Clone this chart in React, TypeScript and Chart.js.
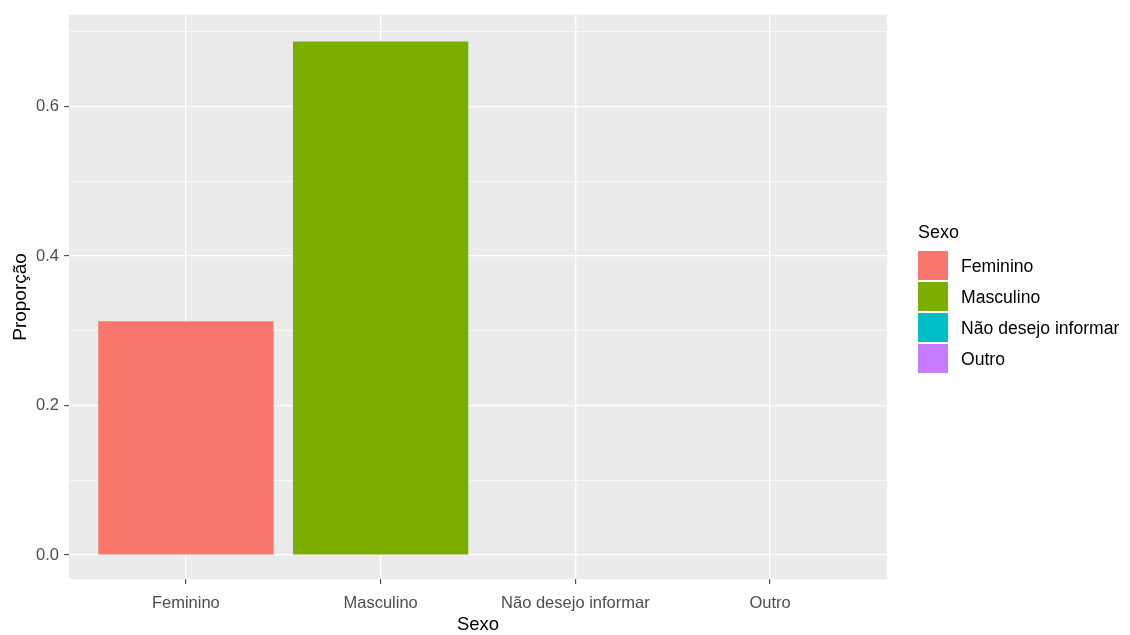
import React, { useEffect, useRef } from "react";
import { Chart, registerables } from "chart.js";

Chart.register(...registerables);

const categories = ["Feminino", "Masculino", "Não desejo informar", "Outro"];
const proportions = [0.313, 0.687, 0, 0];
const barColors = ["#F8766D", "#7CAE00", "#00BFC4", "#C77CFF"];
const yTickValues = [0, 0.1, 0.2, 0.3, 0.4, 0.5, 0.6, 0.7];
const majorYTicks = [0, 0.2, 0.4, 0.6];
const legendTitle = "Sexo";
const xTitle = "Sexo";
const yTitle = "Proporção";

const FONT = "'Liberation Sans', Arial, sans-serif";

const panelBg = {
  id: "panelBg",
  beforeDraw(chart: any) {
    const { ctx, chartArea } = chart;
    ctx.save();
    ctx.fillStyle = "#EBEBEB";
    ctx.fillRect(chartArea.left, chartArea.top, chartArea.right - chartArea.left, chartArea.bottom - chartArea.top);
    ctx.restore();
  },
};

const legendPlugin = {
  id: "ggLegend",
  afterDraw(chart: any) {
    const { ctx, chartArea } = chart;
    const x0 = chartArea.right + 31;
    ctx.save();
    ctx.fillStyle = "#000000";
    ctx.font = `18px ${FONT}`;
    ctx.textBaseline = "middle";
    ctx.textAlign = "left";
    ctx.fillText(legendTitle, x0, 233);
    const keyTop = 251;
    const step = 31;
    categories.forEach((c, i) => {
      const y = keyTop + i * step;
      ctx.fillStyle = barColors[i];
      ctx.fillRect(x0, y, 30, 29);
      ctx.fillStyle = "#000000";
      ctx.font = `17.6px ${FONT}`;
      ctx.fillText(c, x0 + 43, y + 16);
    });
    ctx.restore();
  },
};

export default function App() {
  const ref = useRef<HTMLCanvasElement | null>(null);
  useEffect(() => {
    document.body.style.margin = "0";
    const canvas = ref.current;
    if (!canvas) return;
    const isMajorY = (v: number) => majorYTicks.some((m) => Math.abs(m - v) < 1e-6);
    const chart = new Chart(canvas, {
      type: "bar",
      data: {
        datasets: [
          {
            data: categories.map((c, i) => ({ x: i, y: proportions[i] })),
            backgroundColor: barColors,
            borderWidth: 0,
            categoryPercentage: 1,
            barPercentage: 0.9,
          } as any,
        ],
      },
      options: {
        animation: false,
        responsive: false,
        devicePixelRatio: 1,
        layout: { padding: { top: 13, right: 243, left: 0, bottom: 0 } },
        plugins: { legend: { display: false }, tooltip: { enabled: false } },
        scales: {
          x: {
            type: "linear",
            min: -0.6,
            max: 3.6,
            offset: false,
            afterBuildTicks: (scale: any) => {
              scale.ticks = categories.map((_, i) => ({ value: i }));
            },
            afterFit: (scale: any) => {
              scale.height = 56;
            },
            ticks: {
              callback: (v: any) => categories[Number(v)] ?? "",
              color: "#4D4D4D",
              font: { family: FONT, size: 16.5, lineHeight: 1 },
              padding: 11,
              maxRotation: 0,
              autoSkip: false,
            },
            grid: {
              offset: false,
              color: "#FFFFFF",
              lineWidth: 1.3,
              tickLength: 5,
              tickColor: "#333333",
              tickWidth: 1,
            },
            border: { display: false },
            title: {
              display: true,
              text: xTitle,
              color: "#000000",
              font: { family: FONT, size: 18.5, lineHeight: 1 },
              padding: { top: 0, bottom: 1 },
            },
          },
          y: {
            type: "linear",
            min: -0.032,
            max: 0.7227,
            afterBuildTicks: (scale: any) => {
              scale.ticks = yTickValues.map((v) => ({ value: v }));
            },
            afterFit: (scale: any) => {
              scale.width = 69;
            },
            ticks: {
              callback: (v: any) => (isMajorY(Number(v)) ? Number(v).toFixed(1) : ""),
              color: "#4D4D4D",
              font: { family: FONT, size: 16.5 },
              padding: 5,
              autoSkip: false,
            },
            grid: {
              color: "#FFFFFF",
              lineWidth: (ctx: any) => (isMajorY(ctx.tick?.value) ? 1.3 : 0.6),
              tickLength: 5,
              tickColor: (ctx: any) => (isMajorY(ctx.tick?.value) ? "#333333" : "rgba(0,0,0,0)"),
              tickWidth: 1,
            },
            border: { display: false },
            title: {
              display: true,
              text: yTitle,
              color: "#000000",
              font: { family: FONT, size: 19, lineHeight: 1 },
              padding: { top: 11, bottom: 0 },
            },
          },
        },
      },
      plugins: [panelBg, legendPlugin],
    });
    return () => chart.destroy();
  }, []);
  return (
    <div style={{ width: 1130, height: 635, background: "#FFFFFF" }}>
      <canvas ref={ref} width={1130} height={635} style={{ display: "block", width: 1130, height: 635 }} />
    </div>
  );
}
